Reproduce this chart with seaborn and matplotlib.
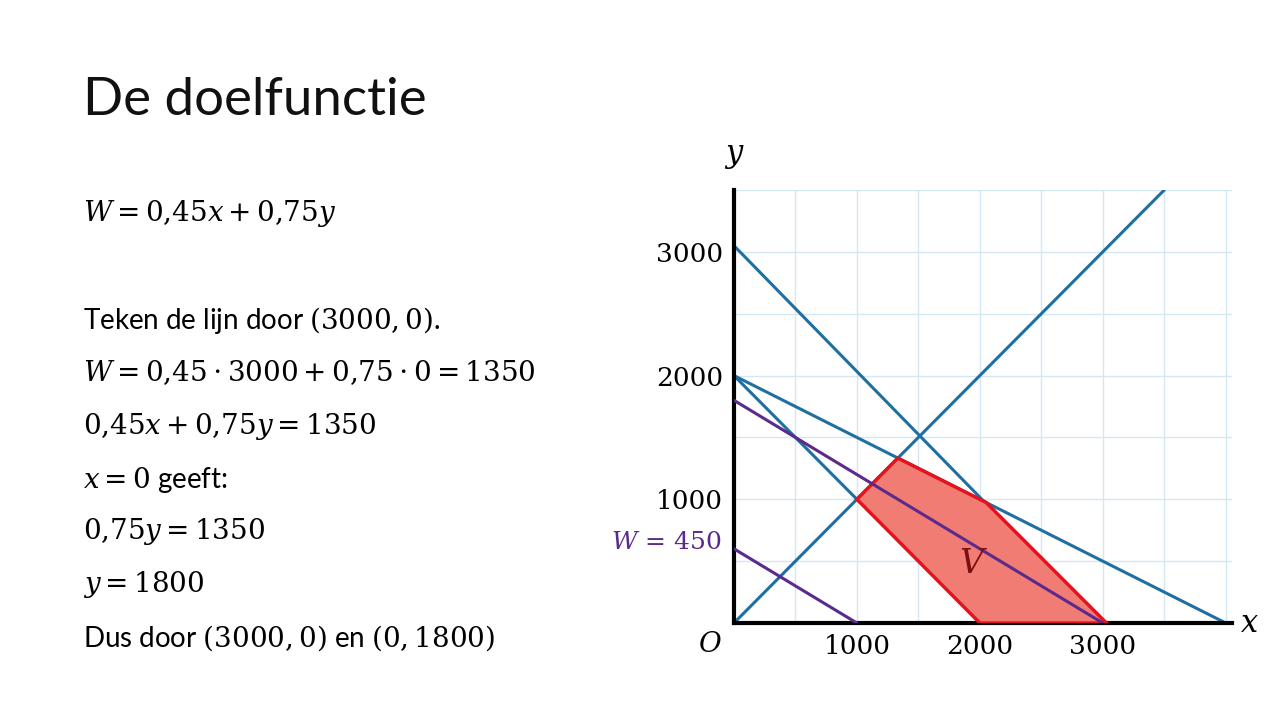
import matplotlib
matplotlib.use("Agg")
import matplotlib.pyplot as plt
import seaborn as sns

sns.set_theme(style="white")
plt.rcParams['font.family'] = ['Lato', 'DejaVu Sans']
plt.rcParams['mathtext.fontset'] = 'dejavuserif'
plt.rcParams['text.color'] = 'black'

# constraint lines (blue): endpoints
blue_x = [[0, 3500], [0, 3000], [0, 1000], [0, 4000]]
blue_y = [[0, 3500], [3050, 0], [2000, 1000], [2000, 0]]
# objective lines (purple)
purple_x = [[0, 1000], [0, 3000]]
purple_y = [[600, 0], [1800, 0]]
# feasible region V
region_x = [1000, 1333, 2050, 3030, 2000]
region_y = [1000, 1333, 975, 0, 0]
ticks = [1000, 2000, 3000]

fig = plt.figure(figsize=(12.8, 7.2), dpi=100)
ax = fig.add_axes([0.5734, 0.1347, 0.389, 0.6014])
ax.set_xlim(0, 4050)
ax.set_ylim(0, 3500)
for v in range(500, 4001, 500):
    ax.axvline(v, color='#d3e8f2', lw=1, zorder=0)
for v in range(500, 3501, 500):
    ax.axhline(v, color='#d3e8f2', lw=1, zorder=0)

for xs, ys in zip(blue_x, blue_y):
    sns.lineplot(x=xs, y=ys, ax=ax, color='#1f6fa3', lw=2.2, sort=False, zorder=2)
ax.fill(region_x, region_y, facecolor='#f07c74', edgecolor='#e3141e', lw=2.5, zorder=3)
for xs, ys in zip(purple_x, purple_y):
    sns.lineplot(x=xs, y=ys, ax=ax, color='#5b2a8c', lw=2.2, sort=False, zorder=4)

for s in ['top', 'right']:
    ax.spines[s].set_visible(False)
for s in ['left', 'bottom']:
    ax.spines[s].set_linewidth(3)
    ax.spines[s].set_color('black')
ax.set_xticks(ticks)
ax.set_yticks(ticks)
ax.set_xticklabels([str(t) for t in ticks], family='DejaVu Serif', fontsize=19, color='black')
ax.set_yticklabels([str(t) for t in ticks], family='DejaVu Serif', fontsize=19, color='black')
ax.tick_params(length=0, pad=8)
ax.text(1950, 480, '$V$', fontsize=24, color='#7a1010', ha='center', va='center', zorder=5)
ax.text(-100, 650, '$W$ = 450', fontsize=18, color='#5b2a8c', ha='right', va='center', family='DejaVu Serif')
fig.text(0.574, 0.775, '$y$', fontsize=22, ha='center')
fig.text(0.976, 0.135, '$x$', fontsize=22, ha='center', va='center')
fig.text(0.555, 0.105, '$O$', fontsize=20, ha='center', va='center')

fig.text(0.065, 0.86, 'De doelfunctie', fontsize=38, va='center', color='#111111')
lines = [
    (0.703, r'$W = 0{,}45x + 0{,}75y$'),
    (0.555, r'Teken de lijn door $(3000, 0)$.'),
    (0.482, r'$W = 0{,}45\cdot 3000 + 0{,}75\cdot 0 = 1350$'),
    (0.408, r'$0{,}45x + 0{,}75y = 1350$'),
    (0.334, r'$x = 0$ geeft:'),
    (0.262, r'$0{,}75y = 1350$'),
    (0.188, r'$y = 1800$'),
    (0.114, r'Dus door $(3000, 0)$ en $(0, 1800)$'),
]
for y, t in lines:
    fig.text(0.065, y, t, fontsize=20, va='center', color='black')

fig.savefig('out.png', dpi=100)
